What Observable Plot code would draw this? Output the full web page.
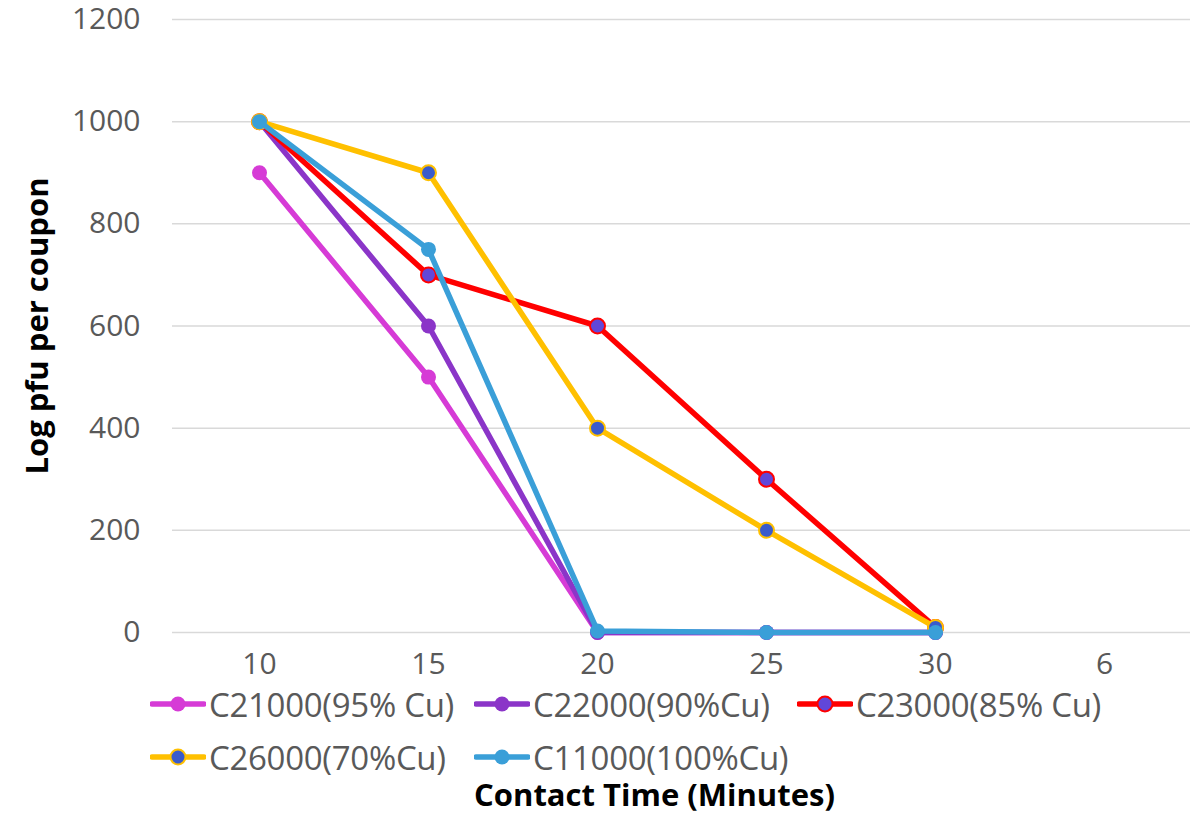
<!DOCTYPE html>
<html><head><meta charset="utf-8">
<script src="https://cdn.jsdelivr.net/npm/d3@7"></script>
<script src="https://cdn.jsdelivr.net/npm/@observablehq/plot@0.6"></script>
<style>
html,body{margin:0;padding:0;background:#fff;}
#wrap{position:relative;width:1201px;height:815px;font-family:"Open Sans",sans-serif;}
#legend{position:absolute;left:150px;top:686px;display:grid;grid-template-columns:324px 323px 340px;row-gap:17px;}
.item{display:flex;align-items:center;height:36px;font-size:33px;color:#595959;white-space:nowrap;letter-spacing:-0.3px;}
.item svg{margin-right:3px;}
</style></head>
<body><div id="wrap"><div id="chart"></div><div id="legend"></div></div>
<script>
const times = ["10","15","20","25","30","6"];
const seriesNames = ["C21000(95% Cu)","C22000(90%Cu)","C23000(85% Cu)","C26000(70%Cu)","C11000(100%Cu)"];
const c21000 = [900,500,0,0,0];
const c22000 = [1000,600,0,0,0];
const c23000 = [1000,700,600,300,10];
const c26000 = [1000,900,400,200,10];
const c11000 = [1000,750,3,0,0];
const lineColors = ["#d63bd6","#8b35c8","#ff0000","#ffc000","#3a9fd8"];
const markerFills = ["#d63bd6","#8b35c8","#6147d9","#3a5bcc","#3a9fd8"];
const yTicks = [0,200,400,600,800,1000,1200];
const yTitle = "Log pfu per coupon";
const xTitle = "Contact Time (Minutes)";

const values = [c21000,c22000,c23000,c26000,c11000];
const data = [];
values.forEach((vals,s)=>vals.forEach((v,i)=>data.push({series:seriesNames[s],time:times[i],value:v})));

const marks = [
  Plot.gridY(yTicks,{stroke:"#d9d9d9",strokeOpacity:1,strokeWidth:1.5}),
  Plot.axisY(yTicks,{tickSize:0,tickPadding:32,label:null,fontSize:30,fill:"#595959",tickFormat:d=>String(d)}),
  Plot.axisX({tickSize:0,tickPadding:20,label:null,fontSize:30,fill:"#595959"}),
  Plot.text([yTitle],{frameAnchor:"left",dx:-134,rotate:-90,textAnchor:"middle",fontWeight:"bold",fill:"#000",fontSize:31}),
  Plot.text([xTitle],{frameAnchor:"bottom",dx:-27,dy:173,textAnchor:"middle",fontWeight:"bold",fill:"#000",fontSize:31})
];
seriesNames.forEach((name,s)=>{
  const d = data.filter(r=>r.series===name);
  marks.push(Plot.line(d,{x:"time",y:"value",stroke:lineColors[s],strokeWidth:5.5,strokeLinejoin:"round"}));
  marks.push(Plot.dot(d,{x:"time",y:"value",r:7.5,fill:markerFills[s],stroke:lineColors[s],strokeWidth:s===2||s===3?2:0}));
});

const chart = Plot.plot({
  width:1201,height:815,
  marginTop:19,marginBottom:183,marginLeft:172,marginRight:11,
  style:{fontFamily:"'Open Sans', sans-serif",fontSize:"30px",color:"#595959",background:"#fff"},
  x:{type:"point",domain:times,padding:0.5,label:null},
  y:{domain:[0,1200],label:null},
  marks
});
document.getElementById("chart").appendChild(chart);

const legend = d3.select("#legend");
seriesNames.forEach((name,s)=>{
  const it = legend.append("div").attr("class","item");
  const sv = it.append("svg").attr("width",56).attr("height",20);
  sv.append("line").attr("x1",2).attr("x2",54).attr("y1",10).attr("y2",10).attr("stroke",lineColors[s]).attr("stroke-width",5.5).attr("stroke-linecap","round");
  sv.append("circle").attr("cx",28).attr("cy",10).attr("r",7.5).attr("fill",markerFills[s]).attr("stroke",lineColors[s]).attr("stroke-width",s===2||s===3?2:0);
  it.append("span").text(name);
});
</script></body></html>
